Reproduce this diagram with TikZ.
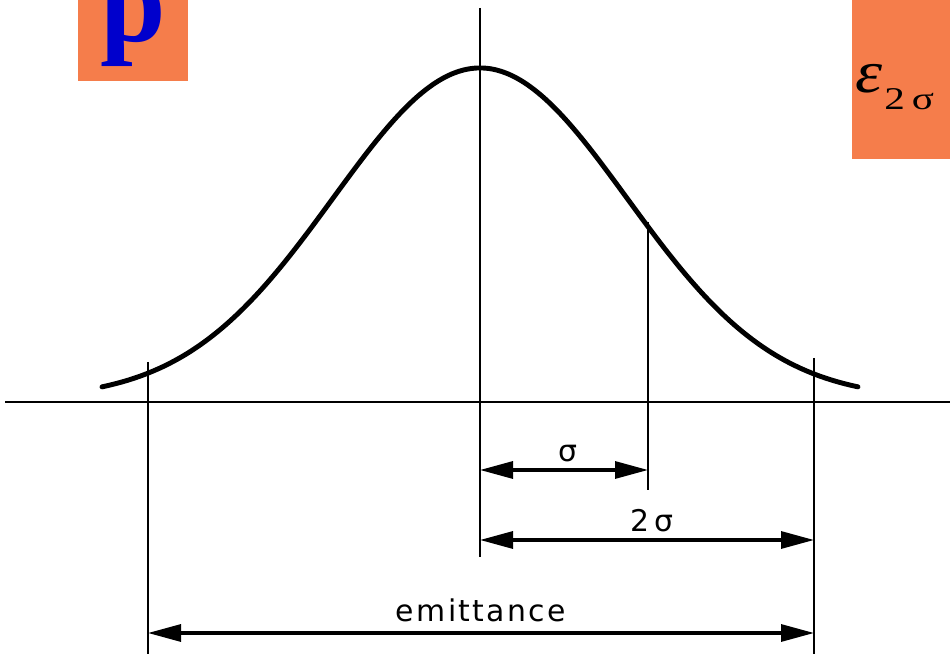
\documentclass[tikz,border=0pt]{standalone}
\usepackage{fontspec}
\usepackage{xcolor}
\usetikzlibrary{arrows.meta}
\newfontfamily\dimfont{DejaVu Sans}[LetterSpace=8]
\newfontfamily\slidefont{Liberation Serif}
\definecolor{boxorange}{RGB}{245,125,75}
\definecolor{pblue}{RGB}{0,0,204}

\begin{document}
\begin{tikzpicture}[
  thinline/.style={black, line width=0.85pt},
  axisline/.style={black, line width=1.1pt},
  bell/.style={black, line width=2.8pt, line cap=round},
  dimarrow/.style={black, line width=1.8pt, {Triangle[length=0.66cm,width=0.34cm]}-{Triangle[length=0.66cm,width=0.34cm]}},
  dimlabel/.style={font=\dimfont\fontsize{17}{18}\selectfont, anchor=base, inner sep=0pt}]
\useasboundingbox (0,0) rectangle (19,13.08);
\clip (0,0) rectangle (19,13.08);
\fill[boxorange] (1.56,13.08) rectangle (3.76,11.46);
\fill[boxorange] (17.04,13.08) rectangle (19,9.9);
\node[anchor=base, inner sep=0pt, text=pblue, font=\slidefont\bfseries\fontsize{67}{67}\selectfont] (ptag) at (2.66,12.24) {p};
\node[anchor=base west, inner sep=0pt, font=\slidefont\itshape\fontsize{34}{35}\selectfont] (eps) at (17.1,11.22) {\scalebox{1.15}[1]{ε}};
\node[anchor=base west, inner sep=0pt, font=\slidefont\fontsize{18}{19}\selectfont] (epssub) at (17.68,10.88) {\scalebox{1.3}[1]{2\,σ}};
\coordinate (mu) at (9.6,5.04);
\coordinate (s1) at (12.96,5.04);
\coordinate (s2r) at (16.28,5.04);
\coordinate (s2l) at (2.96,5.04);
\draw[axisline] (0.1,5.04) -- (19,5.04);
\draw[thinline] (mu |- 0,12.92) -- (mu |- 0,1.94);
\draw[thinline] (s1 |- 0,8.64) -- (s1 |- 0,3.28);
\draw[thinline] (s2r |- 0,5.92) -- (s2r |- 0,0);
\draw[thinline] (s2l |- 0,5.84) -- (s2l |- 0,0);
\draw[bell] plot[domain=2.04:17.16, samples=120, smooth] (\x,{5.1+6.62*exp(0-(\x-9.6)*(\x-9.6)/17.29)});
\coordinate (a1l) at (mu |- 0,3.68);
\coordinate (a1r) at (s1 |- 0,3.68);
\coordinate (a2l) at (mu |- 0,2.28);
\coordinate (a2r) at (s2r |- 0,2.28);
\coordinate (a3l) at (s2l |- 0,0.42);
\coordinate (a3r) at (s2r |- 0,0.42);
\draw[dimarrow] (a1l) -- (a1r);
\draw[dimarrow] (a2l) -- (a2r);
\draw[dimarrow] (a3l) -- (a3r);
\node[dimlabel] (sig) at (11.36,3.84) {σ};
\node[dimlabel] (twosig) at (13.04,2.44) {2\,σ};
\node[dimlabel] (emit) at (9.62,0.64) {emittance};
\end{tikzpicture}
\end{document}
